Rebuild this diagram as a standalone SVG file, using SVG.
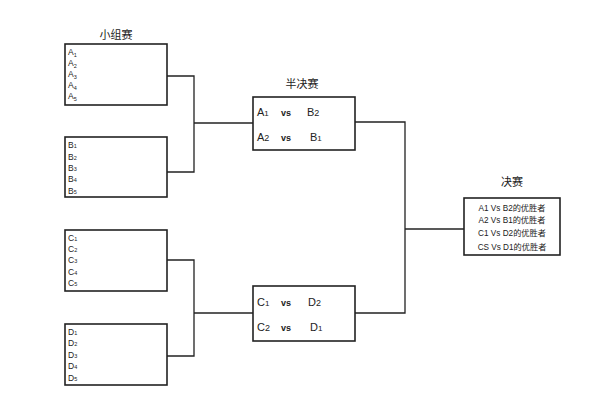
<svg xmlns="http://www.w3.org/2000/svg" width="595" height="403" viewBox="0 0 595 403">
<style>
.box{fill:#fff;stroke:#222;stroke-width:1.6}
.ln{fill:none;stroke:#222;stroke-width:1.3}
.t{font-family:"Liberation Sans","Noto Sans CJK SC",sans-serif;fill:#222}
.s{font-size:8.5px}
.sub{font-size:5.5px}
.m{font-size:11px}
.h{font-size:11px;text-anchor:middle;font-family:"Noto Sans CJK SC",sans-serif;fill:#222}
.f{font-size:8.2px;text-anchor:middle}
</style>
<rect width="595" height="403" fill="#fff"/>
<g id="connectors">
<polyline class="ln" points="167,76 194,76 194,172 167,172"/>
<line class="ln" x1="194" y1="123" x2="253" y2="123"/>
<polyline class="ln" points="167,260 194,260 194,356 167,356"/>
<line class="ln" x1="194" y1="313" x2="253" y2="313"/>
<polyline class="ln" points="355,122 405,122 405,313 355,313"/>
<line class="ln" x1="405" y1="229" x2="464" y2="229"/>
</g>
<g id="groupA">
<text class="h" x="116" y="39">小组赛</text>
<rect class="box" x="65" y="44" width="102" height="61"/>
<text class="t s" x="68" y="55">A<tspan class="sub" dy="2">1</tspan></text>
<text class="t s" x="68" y="66">A<tspan class="sub" dy="2">2</tspan></text>
<text class="t s" x="68" y="77">A<tspan class="sub" dy="2">3</tspan></text>
<text class="t s" x="68" y="88">A<tspan class="sub" dy="2">4</tspan></text>
<text class="t s" x="68" y="99">A<tspan class="sub" dy="2">5</tspan></text>
</g>
<g id="groupB">
<rect class="box" x="65" y="137" width="102" height="60"/>
<text class="t s" x="68" y="148">B<tspan class="sub">1</tspan></text>
<text class="t s" x="68" y="160">B<tspan class="sub">2</tspan></text>
<text class="t s" x="68" y="171">B<tspan class="sub">3</tspan></text>
<text class="t s" x="68" y="182">B<tspan class="sub">4</tspan></text>
<text class="t s" x="68" y="194">B<tspan class="sub">5</tspan></text>
</g>
<g id="groupC">
<rect class="box" x="65" y="230" width="102" height="61"/>
<text class="t s" x="68" y="241">C<tspan class="sub">1</tspan></text>
<text class="t s" x="68" y="252">C<tspan class="sub">2</tspan></text>
<text class="t s" x="68" y="263">C<tspan class="sub">3</tspan></text>
<text class="t s" x="68" y="275">C<tspan class="sub">4</tspan></text>
<text class="t s" x="68" y="286">C<tspan class="sub">5</tspan></text>
</g>
<g id="groupD">
<rect class="box" x="65" y="324" width="102" height="61"/>
<text class="t s" x="68" y="335">D<tspan class="sub">1</tspan></text>
<text class="t s" x="68" y="346">D<tspan class="sub">2</tspan></text>
<text class="t s" x="68" y="358">D<tspan class="sub">3</tspan></text>
<text class="t s" x="68" y="369">D<tspan class="sub">4</tspan></text>
<text class="t s" x="68" y="381">D<tspan class="sub">5</tspan></text>
</g>
<g id="semi1">
<text class="h" x="302" y="88">半决赛</text>
<rect class="box" x="253" y="97" width="102" height="53"/>
<text class="t m" x="257" y="116">A<tspan font-size="8">1</tspan></text>
<text class="t" font-size="9" font-weight="bold" x="281" y="116">vs</text>
<text class="t m" x="307" y="116">B<tspan font-size="9">2</tspan></text>
<text class="t m" x="257" y="141">A<tspan font-size="9">2</tspan></text>
<text class="t" font-size="9" font-weight="bold" x="281" y="141">vs</text>
<text class="t m" x="310" y="141">B<tspan font-size="8">1</tspan></text>
</g>
<g id="semi2">
<rect class="box" x="253" y="286" width="102" height="55"/>
<text class="t m" x="257" y="306">C<tspan font-size="8">1</tspan></text>
<text class="t" font-size="9" font-weight="bold" x="281" y="306">vs</text>
<text class="t m" x="308" y="306">D<tspan font-size="9">2</tspan></text>
<text class="t m" x="257" y="331">C<tspan font-size="9">2</tspan></text>
<text class="t" font-size="9" font-weight="bold" x="281" y="331">vs</text>
<text class="t m" x="310" y="331">D<tspan font-size="8">1</tspan></text>
</g>
<g id="final">
<text class="h" x="512" y="186">决赛</text>
<rect class="box" x="464" y="198" width="96" height="57"/>
<text class="t f" x="512" y="211">A1 Vs B2的优胜者</text>
<text class="t f" x="512" y="223">A2 Vs B1的优胜者</text>
<text class="t f" x="512" y="236">C1 Vs D2的优胜者</text>
<text class="t f" x="512" y="250">CS Vs D1的优胜者</text>
</g>
</svg>
